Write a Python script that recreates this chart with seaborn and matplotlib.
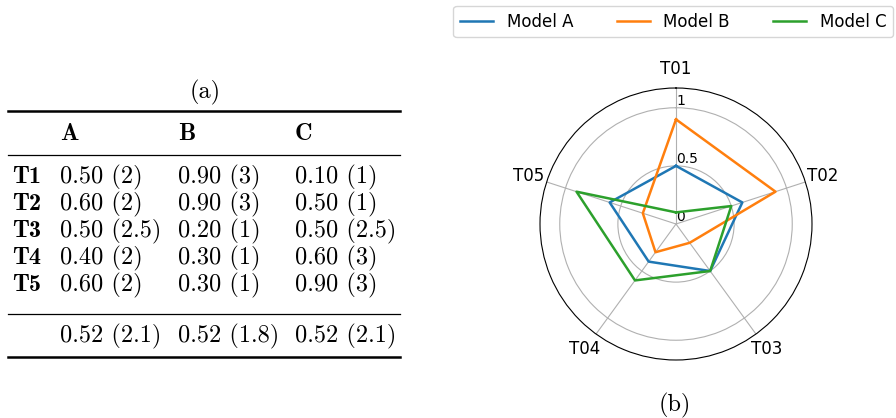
import numpy as np
import pandas as pd
import matplotlib
matplotlib.use("Agg")
import matplotlib.pyplot as plt
import seaborn as sb

tasks = ["T01", "T02", "T03", "T04", "T05"]
row_labels = ["T1", "T2", "T3", "T4", "T5"]
models = ["Model A", "Model B", "Model C"]
col_labels = ["A", "B", "C"]
model_a = [0.5, 0.6, 0.5, 0.4, 0.6]
model_b = [0.9, 0.9, 0.2, 0.3, 0.3]
model_c = [0.1, 0.5, 0.5, 0.6, 0.9]
rank_a = ["2", "2", "2.5", "2", "2"]
rank_b = ["3", "3", "1", "1", "1"]
rank_c = ["1", "1", "2.5", "3", "3"]
mean_row = ["0.52 (2.1)", "0.52 (1.8)", "0.52 (2.1)"]
r_ticks = [0, 0.5, 1]
r_tick_labels = ["0", "0.5", "1"]

colors = sb.color_palette("tab10", 3)
fs_tab = 17.5
rm = dict(family="cmr10", fontsize=fs_tab)
bf = dict(family="cmb10", fontsize=fs_tab)

fig = plt.figure(figsize=(8.96, 4.18), dpi=100)

# ---- (a) table drawn as text, pixel coords
tab = fig.add_axes([0, 0, 1, 1])
tab.set_xlim(0, 896)
tab.set_ylim(418, 0)
tab.axis("off")

tab.text(205, 92, "(a)", ha="center", va="center", **rm)
tab.plot([8, 400], [111, 111], color="black", lw=1.8)
tab.plot([8, 400], [155, 155], color="black", lw=0.9)
tab.plot([8, 400], [314, 314], color="black", lw=0.9)
tab.plot([8, 400], [357, 357], color="black", lw=1.8)

col_x = [60, 178, 295]
for x, c in zip(col_x, col_labels):
    tab.text(x, 134, c, ha="left", va="center", **bf)

vals = [model_a, model_b, model_c]
ranks = [rank_a, rank_b, rank_c]
row_y0 = 177
row_step = 27
for i, lab in enumerate(row_labels):
    y = row_y0 + i * row_step
    tab.text(12, y, lab, ha="left", va="center", **bf)
    for j in range(3):
        tab.text(col_x[j], y, "%.2f (%s)" % (vals[j][i], ranks[j][i]),
                 ha="left", va="center", **rm)
for j in range(3):
    tab.text(col_x[j], 336, mean_row[j], ha="left", va="center", **rm)

# ---- (b) radar chart
angles = np.linspace(0, 2 * np.pi, len(tasks), endpoint=False)
rows = []
for m, v in zip(models, vals):
    for a, val in zip(list(angles) + [2 * np.pi], v + [v[0]]):
        rows.append({"theta": a, "score": val, "model": m})
radar_df = pd.DataFrame(rows)

ax = fig.add_axes([540 / 896, 1 - 360 / 418, 272 / 896, 272 / 418], projection="polar")
ax.set_theta_offset(np.pi / 2)
ax.set_theta_direction(-1)
sb.lineplot(data=radar_df, x="theta", y="score", hue="model", sort=False,
            estimator=None, palette=colors, linewidth=1.8, ax=ax, legend=False)
ax.set_ylim(0, 1.17)
ax.set_xticks(angles)
ax.set_xticklabels(tasks, fontsize=12)
ax.set_yticks(r_ticks)
ax.set_yticklabels(r_tick_labels, fontsize=10)
ax.set_rlabel_position(0)
ax.set(xlabel=None, ylabel=None)
ax.grid(color="#b0b0b0", linewidth=0.8)
ax.tick_params(axis="x", pad=3)

handles = [plt.Line2D([], [], color=c, lw=1.8) for c in colors]
fig.legend(handles, models, loc="upper right", ncol=3, fontsize=12, columnspacing=2.6,
           bbox_to_anchor=(893 / 896, 1 - 6 / 418), borderaxespad=0)

fig.text(675 / 896, 1 - 405 / 418, "(b)", ha="center", va="center", **rm)

plt.savefig("out.png", dpi=100)
